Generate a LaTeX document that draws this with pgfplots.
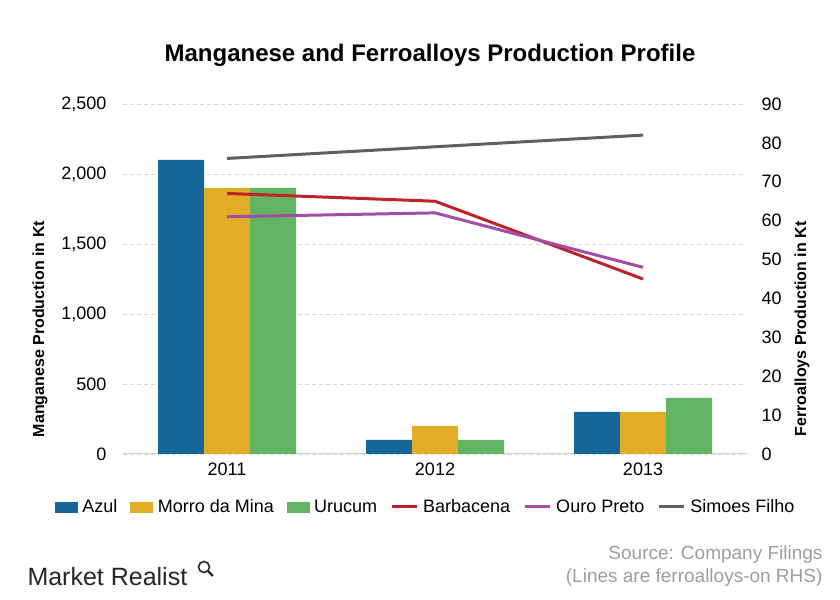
\documentclass[border=0pt]{standalone}
\usepackage{pgfplots}
\pgfplotsset{compat=1.18}
\usepackage{fontspec}
\setmainfont{Liberation Sans}
\definecolor{azul}{HTML}{17669A}
\definecolor{morro}{HTML}{E2AD26}
\definecolor{urucum}{HTML}{62B462}
\definecolor{barbacena}{HTML}{BF232A}
\definecolor{ouro}{HTML}{A34DA8}
\definecolor{simoes}{HTML}{606060}
\begin{document}
\begin{tikzpicture}[x=1bp,y=1bp]
\path[use as bounding box] (0,0) rectangle (840,600);
\node[font=\fontsize{24bp}{28bp}\selectfont\bfseries, anchor=center] at (430,545) {Manganese and Ferroalloys Production Profile};
\begin{axis}[
 at={(123bp,146bp)}, anchor=south west, scale only axis, width=624bp, height=350bp,
 xmin=-0.5, xmax=2.5, ymin=0, ymax=2500,
 xtick={0,1,2}, xticklabels={2011,2012,2013},
 ytick={0,500,...,2500},
 ybar=0pt, bar width=46bp,
 axis x line*=bottom, axis y line*=left,
 x axis line style={draw=black!18, -, line width=1bp},
 y axis line style={draw=none},
 major tick length=0pt,
 ymajorgrids, grid style={dash pattern=on 4bp off 3bp, draw=black!15, line width=0.8bp},
 tick label style={font=\fontsize{18bp}{20bp}\selectfont},
 /pgf/number format/assume math mode=true,
 /pgf/number format/1000 sep={,},
 yticklabel style={xshift=-13bp},
 xticklabel style={yshift=-5bp},
 ylabel={Manganese Production in Kt},
 ylabel style={at={(axis description cs:-0.133,0.357)}, anchor=center, rotate=0, font=\fontsize{16bp}{18bp}\selectfont\bfseries},
 clip=false,
]
\addplot[fill=azul, draw=none] coordinates {(0,2100) (1,100) (2,300)};
\addplot[fill=morro, draw=none] coordinates {(0,1900) (1,200) (2,300)};
\addplot[fill=urucum, draw=none] coordinates {(0,1900) (1,100) (2,400)};
\end{axis}
\begin{axis}[
 at={(123bp,146bp)}, anchor=south west, scale only axis, width=624bp, height=350bp,
 xmin=-0.5, xmax=2.5, ymin=0, ymax=90,
 hide x axis,
 axis y line*=right, y axis line style={draw=none},
 ytick={0,10,...,90}, major tick length=0pt,
 tick label style={font=\fontsize{18bp}{20bp}\selectfont},
 /pgf/number format/assume math mode=true,
 yticklabel style={xshift=11bp},
 ylabel={Ferroalloys Production in Kt},
 ylabel style={at={(axis description cs:1.088,0.357)}, anchor=center, font=\fontsize{16bp}{18bp}\selectfont\bfseries},
 legend style={draw=none, fill=none, legend columns=6, at={(axis description cs:0.485,-0.151)}, anchor=center, font=\fontsize{18bp}{21bp}\selectfont, /tikz/every even column/.append style={column sep=11bp}, /tikz/every odd column/.append style={column sep=3bp}, inner sep=0pt},
 legend cell align=left,
 legend image code/.code={\draw[#1] (0bp,0bp) -- (25bp,0bp);},
 clip=false,
]
\addlegendimage{legend image code/.code={\fill[azul] (0bp,-5bp) rectangle (22bp,5bp);}}
\addlegendentry{Azul}
\addlegendimage{legend image code/.code={\fill[morro] (0bp,-5bp) rectangle (22bp,5bp);}}
\addlegendentry{Morro da Mina}
\addlegendimage{legend image code/.code={\fill[urucum] (0bp,-5bp) rectangle (22bp,5bp);}}
\addlegendentry{Urucum}
\addplot[barbacena, line width=3bp] coordinates {(0,67) (1,65) (2,45)};
\addlegendentry{Barbacena}
\addplot[ouro, line width=3bp] coordinates {(0,61) (1,62) (2,48)};
\addlegendentry{Ouro Preto}
\addplot[simoes, line width=3bp] coordinates {(0,76) (1,79) (2,82)};
\addlegendentry{Simoes Filho}
\end{axis}
\node[anchor=east, text=black!38, font=\fontsize{19bp}{22bp}\selectfont] at (826,45) {Source: Company Filings};
\node[anchor=east, text=black!38, font=\fontsize{19bp}{22bp}\selectfont] at (826,22) {(Lines are ferroalloys-on RHS)};
\node[anchor=west, text=black!85, font=\fontsize{25bp}{28bp}\selectfont] at (24,23) {Market Realist};
\draw[black!85, line width=1.6bp] (204,33) circle (5.5);
\draw[black!85, line width=2.2bp] (208,29) -- (213,24);
\end{tikzpicture}
\end{document}
